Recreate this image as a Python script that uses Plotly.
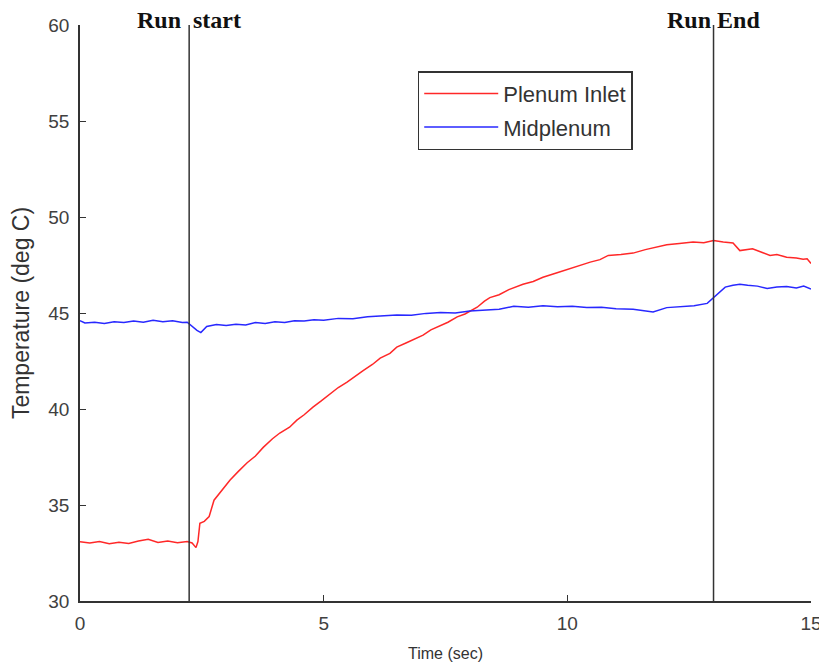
import plotly.graph_objects as go

# Plenum Inlet (red)
t_inlet = [0.0, 0.2, 0.4, 0.6, 0.8, 1.0, 1.2, 1.4, 1.6, 1.8, 2.0, 2.2, 2.3, 2.38, 2.42, 2.46,
           2.55, 2.65, 2.75, 2.9, 3.08, 3.25, 3.43, 3.6, 3.76, 3.95, 4.1, 4.3, 4.45, 4.6, 4.78,
           4.95, 5.13, 5.3, 5.48, 5.65, 5.81, 6.0, 6.16, 6.36, 6.5, 6.7, 6.85, 7.04, 7.2, 7.4,
           7.55, 7.74, 7.9, 8.15, 8.3, 8.41, 8.6, 8.8, 9.09, 9.3, 9.5, 9.79, 10.0, 10.2, 10.47,
           10.67, 10.84, 11.1, 11.35, 11.6, 11.8, 12.04, 12.3, 12.58, 12.8, 13.0, 13.2, 13.4,
           13.54, 13.7, 13.8, 14.0, 14.16, 14.3, 14.5, 14.7, 14.84, 14.92, 15.0]
temp_inlet = [33.08, 33.02, 33.10, 32.98, 33.06, 33.00, 33.12, 33.22, 33.05, 33.12, 33.04, 33.10,
              33.02, 32.78, 33.10, 34.05, 34.15, 34.40, 35.25, 35.75, 36.30, 36.75, 37.20, 37.55,
              38.00, 38.45, 38.75, 39.05, 39.42, 39.70, 40.10, 40.42, 40.80, 41.12, 41.40, 41.72,
              42.00, 42.32, 42.65, 42.90, 43.22, 43.45, 43.62, 43.85, 44.12, 44.35, 44.52, 44.80,
              44.95, 45.30, 45.62, 45.80, 45.95, 46.22, 46.50, 46.64, 46.86, 47.10, 47.28, 47.45,
              47.65, 47.78, 48.00, 48.05, 48.12, 48.30, 48.40, 48.55, 48.62, 48.70, 48.66, 48.78,
              48.70, 48.65, 48.25, 48.30, 48.35, 48.15, 48.00, 48.05, 47.90, 47.86, 47.80, 47.82,
              47.58]

# Midplenum (blue)
t_mid = [0.0, 0.1, 0.3, 0.5, 0.7, 0.9, 1.1, 1.3, 1.5, 1.7, 1.9, 2.1, 2.2, 2.3, 2.4, 2.48, 2.6,
         2.8, 3.0, 3.2, 3.4, 3.6, 3.8, 4.0, 4.2, 4.4, 4.6, 4.8, 5.0, 5.3, 5.6, 5.9, 6.2, 6.5,
         6.8, 7.1, 7.4, 7.7, 8.0, 8.3, 8.6, 8.9, 9.2, 9.5, 9.8, 10.1, 10.4, 10.7, 11.0, 11.35,
         11.6, 11.76, 12.04, 12.3, 12.6, 12.87, 13.0, 13.1, 13.24, 13.4, 13.54, 13.7, 13.9,
         14.1, 14.3, 14.5, 14.7, 14.85, 15.0]
temp_mid = [44.60, 44.48, 44.52, 44.45, 44.55, 44.50, 44.58, 44.52, 44.62, 44.55, 44.60, 44.50,
            44.52, 44.30, 44.10, 43.98, 44.30, 44.40, 44.35, 44.42, 44.38, 44.50, 44.45, 44.55,
            44.50, 44.60, 44.58, 44.65, 44.62, 44.72, 44.70, 44.80, 44.85, 44.90, 44.88, 44.98,
            45.02, 45.00, 45.10, 45.15, 45.20, 45.35, 45.30, 45.38, 45.32, 45.35, 45.28, 45.30,
            45.22, 45.20, 45.12, 45.05, 45.28, 45.32, 45.38, 45.50, 45.80, 46.05, 46.35, 46.45,
            46.50, 46.45, 46.40, 46.28, 46.35, 46.38, 46.30, 46.40, 46.25]

event_times = [2.24, 13.0]
event_labels = ["Run  start", "Run End"]

x_ticks = [0, 5, 10, 15]
y_ticks = [30, 35, 40, 45, 50, 55, 60]

fig = go.Figure()
fig.add_trace(go.Scatter(x=t_inlet, y=temp_inlet, mode="lines", name="Plenum Inlet",
                         legendgroup="a",
                         line=dict(color="rgb(255,40,40)", width=1.5)))
fig.add_trace(go.Scatter(x=t_mid, y=temp_mid, mode="lines", name="Midplenum",
                         legendgroup="b",
                         line=dict(color="rgb(40,40,255)", width=1.5)))

for t, lab in zip(event_times, event_labels):
    fig.add_shape(type="line", x0=t, x1=t, y0=30, y1=60, xref="x", yref="y",
                  line=dict(color="#333333", width=1.5))
    fig.add_annotation(x=t, y=1, xref="x", yref="paper", text="<b>" + lab + "</b>",
                       showarrow=False, xanchor="center", yanchor="bottom", yshift=-10,
                       font=dict(family="Liberation Serif", size=24, color="#111111"))

fig.update_layout(
    width=819, height=658,
    margin=dict(l=72, r=16, t=17, b=65, autoexpand=False),
    plot_bgcolor="white", paper_bgcolor="white",
    font=dict(family="Liberation Sans", color="#404040"),
    legend=dict(x=0.462, y=0.92, xanchor="left", yanchor="top",
                bordercolor="#333333", borderwidth=1.5, bgcolor="white",
                itemwidth=74, tracegroupgap=2,
                font=dict(size=22, color="#333333")),
    xaxis=dict(range=[0, 15], tickvals=x_ticks, ticks="inside", ticklen=6,
               tickcolor="#333333", showline=True, linecolor="#333333", linewidth=1.5,
               showgrid=False, zeroline=False, automargin=False, ticklabelstandoff=4,
               tickfont=dict(size=19, color="#404040"),
               title=dict(text="Time (sec)", font=dict(size=16, color="#333333"))),
    yaxis=dict(range=[30, 60], tickvals=y_ticks, ticks="inside", ticklen=6,
               tickcolor="#333333", showline=True, linecolor="#333333", linewidth=1.5,
               showgrid=False, zeroline=False, automargin=False, ticklabelstandoff=5,
               tickfont=dict(size=19, color="#404040"),
               title=dict(text="Temperature (deg C)", font=dict(size=23, color="#333333"))),
)

fig.write_html("out.html")
